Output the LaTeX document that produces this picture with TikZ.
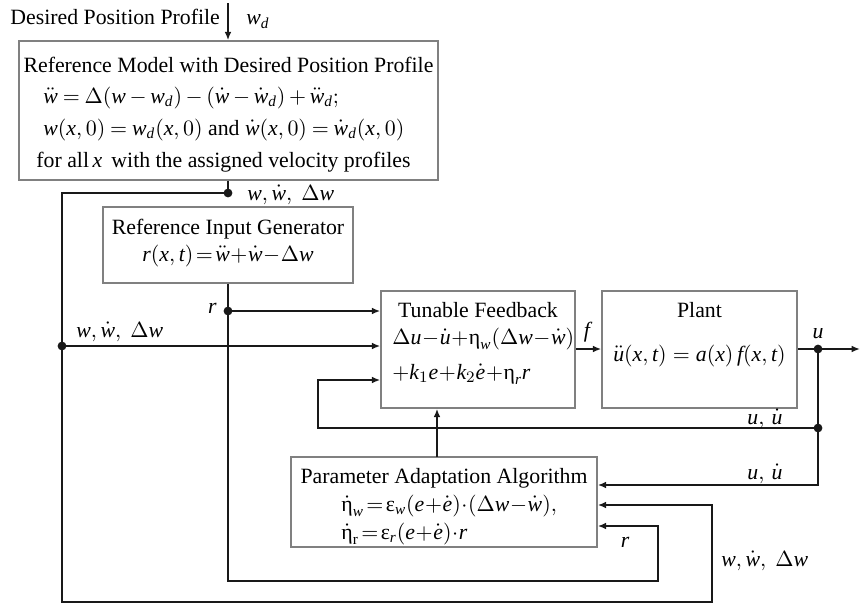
\documentclass[tikz,border=0pt]{standalone}
\usepackage{amsmath}
\usepackage{fontspec}
\setmainfont{Liberation Serif}
\usetikzlibrary{arrows.meta,fit}
\newcommand{\I}[1]{\text{\itshape #1}}
\newcommand{\myeta}{\text{η}}
\newcommand{\myeps}{\text{ε}}
\newcommand{\fs}{\fontsize{10.9}{13}\selectfont}
\newcommand{\loose}{\medmuskip=3mu\thickmuskip=4mu}
\begin{document}
\medmuskip=0.5mu
\thickmuskip=2mu
\begin{tikzpicture}[x=0.5pt,y=-0.5pt,
  box/.style={draw=black!50, line width=0.75pt, inner sep=0pt},
  conn/.style={draw=black!90, line width=0.9pt},
  arr/.style={conn, -{Latex[length=4.2pt,width=3.4pt]}},
  dot/.style={circle, fill=black!90, inner sep=0pt, minimum size=4.4pt},
  txt/.style={inner sep=0pt, font=\fs}]
\useasboundingbox (0,0) rectangle (860,605);

% Reference model
\coordinate (refA) at (19,41);
\coordinate (refB) at (438,180);
\node[box, fit=(refA)(refB)] (ref) {};
\node[txt, anchor=base] (refT) at (228.5,72) {Reference Model with Desired Position Profile};
\node[txt, anchor=base west] (refE1) at (43,103) {\loose$\ddot{\I{w}} = \Delta(\I{w}-\I{w}_{\I{d}})-(\dot{\I{w}}-\dot{\I{w}}_{\I{d}})+\ddot{\I{w}}_{\I{d}};$};
\node[txt, anchor=base west] (refE2) at (43,135) {\loose$\I{w}(\I{x},0) = \I{w}_{\I{d}}(\I{x},0)$ and $\dot{\I{w}}(\I{x},0) = \dot{\I{w}}_{\I{d}}(\I{x},0)$};
\node[txt, anchor=base west] (refE3) at (36,167) {for all\,$\I{x}$\, with the assigned velocity profiles};

\node[txt, anchor=base west] (des) at (10,25) {Desired Position Profile};
\coordinate (din) at (228,3);
\draw[arr] (din) -- (din |- ref.north);
\node[txt, anchor=base west] (wd) at (246,25) {$\I{w}_{\I{d}}$};

% top dot
\node[dot] (d1) at (228,193) {};
\draw[conn] (d1 |- ref.south) -- (d1.center);
\node[txt, anchor=base west] (l1) at (247,200) {$\I{w},\dot{\I{w}},\ \Delta\I{w}$};

% Reference input generator
\coordinate (rigA) at (103,207);
\coordinate (rigB) at (353,283);
\node[box, fit=(rigA)(rigB)] (rig) {};
\node[txt, anchor=base] (rigT) at (228,234) {Reference Input Generator};
\node[txt, anchor=base] (rigE) at (228,261) {$\I{r}(\I{x},\I{t}) = \ddot{\I{w}} + \dot{\I{w}} - \Delta\I{w}$};

% Tunable feedback
\coordinate (tfA) at (381,291);
\coordinate (tfB) at (575,408);
\node[box, fit=(tfA)(tfB)] (tf) {};
\node[txt, anchor=base] (tfT) at (478,317) {Tunable Feedback};
\node[txt, anchor=base west] (tfE1) at (392,344) {$\Delta\I{u}-\dot{\I{u}}+\myeta_{\I{w}}(\Delta\I{w}-\dot{\I{w}})$};
\node[txt, anchor=base west] (tfE2) at (392,379) {$+\I{k}_1\I{e}+\I{k}_2\dot{\I{e}}+\myeta_{\I{r}}\I{r}$};

% Plant
\coordinate (plA) at (602,291);
\coordinate (plB) at (797,408);
\node[box, fit=(plA)(plB)] (plant) {};
\node[txt, anchor=base] (plT) at (699.5,317) {Plant};
\node[txt, anchor=base] (plE) at (699.5,361) {\thickmuskip=5mu$\ddot{\I{u}}(\I{x},\I{t}) = \I{a}(\I{x})\,\I{f}(\I{x},\I{t})$};

% Parameter adaptation algorithm
\coordinate (paA) at (291,457);
\coordinate (paB) at (597,547);
\node[box, fit=(paA)(paB)] (paa) {};
\node[txt, anchor=base] (paT) at (444,483) {Parameter Adaptation Algorithm};
\node[txt, anchor=base west] (paE1) at (341,511) {$\dot{\myeta}_{\I{w}} = \myeps_{\I{w}}(\I{e}+\dot{\I{e}})\cdot(\Delta\I{w}-\dot{\I{w}}),$};
\node[txt, anchor=base west] (paE2) at (341,539) {$\dot{\myeta}_{\mathrm{r}} = \myeps_{\I{r}}(\I{e}+\dot{\I{e}})\cdot\I{r}$};

% w, w-dot, Delta w loop
\coordinate (c1) at (62,193);
\coordinate (cBL) at (62,602);
\coordinate (cBR) at (712,602);
\coordinate (cWR) at (712,505);
\draw[arr] (d1.center) -- (c1) -- (cBL) -- (cBR) -- (cWR) -- (cWR -| paa.east);
\node[dot] (d2) at (62,346) {};
\draw[arr] (d2.center) -- (d2 -| tf.west);
\node[txt, anchor=base west] (l2) at (76,337) {$\I{w},\dot{\I{w}},\ \Delta\I{w}$};
\node[txt, anchor=base west] (l3) at (721,566) {$\I{w},\dot{\I{w}},\ \Delta\I{w}$};

% r
\node[dot] (d3) at (228,311) {};
\node[txt, anchor=base east] (lr1) at (217,313) {$\I{r}$};
\draw[arr] (d3.center) -- (d3 -| tf.west);
\coordinate (cR1) at (228,581);
\coordinate (cR2) at (658,581);
\coordinate (cR3) at (658,526);
\draw[arr] (d3 |- rig.south) -- (cR1) -- (cR2) -- (cR3) -- (cR3 -| paa.east);
\node[txt, anchor=base] (lr2) at (625,547) {$\I{r}$};

% f
\node[dot] (d4) at (818,349) {};
\draw[arr] (tf.east |- d4) -- (plant.west |- d4);
\node[txt, anchor=base] (lf) at (587,337) {$\I{f}$};

% u
\coordinate (uend) at (860,349);
\draw[conn] (plant.east |- d4) -- (d4.center);
\draw[arr] (d4.center) -- (uend);
\node[txt, anchor=base] (lu) at (818,338) {$\I{u}$};
\node[dot] (d5) at (818,428) {};
\coordinate (cU) at (818,485);
\draw[arr] (d4.center) -- (cU) -- (cU -| paa.east);
\coordinate (cL1) at (318,428);
\coordinate (cL2) at (318,380);
\draw[arr] (d5.center) -- (cL1) -- (cL2) -- (cL2 -| tf.west);
\node[txt, anchor=base east] (lu1) at (783,424) {$\I{u},\,\dot{\I{u}}$};
\node[txt, anchor=base east] (lu2) at (783,479) {$\I{u},\,\dot{\I{u}}$};

% PAA to TF
\coordinate (pu) at (437,457);
\draw[arr] (pu) -- (pu |- tf.south);
\end{tikzpicture}
\end{document}
